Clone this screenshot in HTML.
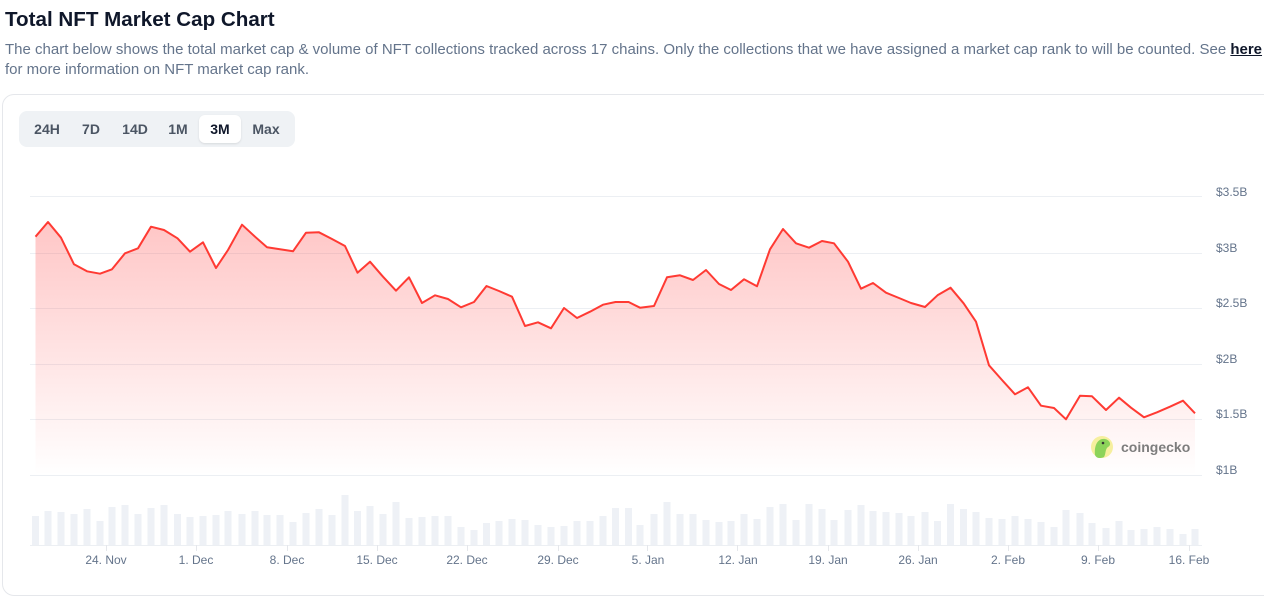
<!DOCTYPE html>
<html><head><meta charset="utf-8"><style>
body{margin:0;width:1264px;height:577px;overflow:hidden;background:#fff;font-family:"Liberation Sans",sans-serif;position:relative}
h1{position:absolute;left:5px;top:8px;margin:0;font-size:20.6px;font-weight:bold;color:#0f172a}
.desc{position:absolute;left:5px;top:40px;width:1259px;font-size:15px;line-height:20px;color:#64748b}
.desc b{color:#0f172a;text-decoration:underline}
.card{position:absolute;left:2px;top:94px;width:1280px;height:500px;border:1px solid #e5e7eb;border-radius:12px}
.btns{position:absolute;left:19px;top:111px;width:276px;height:36px;background:#eff2f5;border-radius:8px}
.btns span{position:absolute;top:4px;height:28px;line-height:28px;font-size:14px;font-weight:bold;color:#4b5563;text-align:center}
.btns .on{background:#fff;border-radius:6px;color:#0f172a;box-shadow:0 1px 2px rgba(0,0,0,.1)}
svg{position:absolute;left:0;top:0}
</style></head><body>
<h1>Total NFT Market Cap Chart</h1>
<div class="desc">The chart below shows the total market cap &amp; volume of NFT collections tracked across 17 chains. Only the collections that we have assigned a market cap rank to will be counted. See <b>here</b> for more information on NFT market cap rank.</div>
<div class="card"></div>
<div class="btns"><span style="left:6px;width:44px">24H</span><span style="left:52px;width:40px">7D</span><span style="left:94px;width:44px">14D</span><span style="left:140px;width:38px">1M</span><span class="on" style="left:180px;width:42px">3M</span><span style="left:224px;width:46px">Max</span></div>
<svg width="1264" height="577" xmlns="http://www.w3.org/2000/svg">
<defs><linearGradient id="g" x1="0" y1="0" x2="0" y2="1"><stop offset="0" stop-color="#ff4d4d" stop-opacity="0.32"/><stop offset="1" stop-color="#ff4d4d" stop-opacity="0"/></linearGradient></defs>
<g stroke="#eceff3" stroke-width="1">
<line x1="30" x2="1202" y1="196.5" y2="196.5"/><line x1="30" x2="1202" y1="253.5" y2="253.5"/><line x1="30" x2="1202" y1="308.5" y2="308.5"/><line x1="30" x2="1202" y1="364.5" y2="364.5"/><line x1="30" x2="1202" y1="419.5" y2="419.5"/><line x1="30" x2="1202" y1="475.5" y2="475.5"/><line x1="30" x2="1202" y1="545.5" y2="545.5"/>
</g>
<g fill="#eef1f6">
<rect x="32" y="516" width="7" height="29"/><rect x="44.5" y="511" width="7" height="34"/><rect x="57.5" y="512" width="7" height="33"/><rect x="70.5" y="514" width="7" height="31"/><rect x="83.5" y="509" width="7" height="36"/><rect x="96.5" y="521" width="7" height="24"/><rect x="108.5" y="507" width="7" height="38"/><rect x="121.5" y="505" width="7" height="40"/><rect x="134.5" y="514" width="7" height="31"/><rect x="147.5" y="508" width="7" height="37"/><rect x="160.5" y="505" width="7" height="40"/><rect x="174" y="514" width="7" height="31"/><rect x="186.5" y="517" width="7" height="28"/><rect x="199.5" y="516" width="7" height="29"/><rect x="212.5" y="515" width="7" height="30"/><rect x="224.5" y="511" width="7" height="34"/><rect x="238.5" y="514" width="7" height="31"/><rect x="251.5" y="511" width="7" height="34"/><rect x="263.5" y="515" width="7" height="30"/><rect x="276.5" y="515" width="7" height="30"/><rect x="289.5" y="522" width="7" height="23"/><rect x="302.5" y="513" width="7" height="32"/><rect x="315.5" y="509" width="7" height="36"/><rect x="328.5" y="515" width="7" height="30"/><rect x="341.5" y="495" width="7" height="50"/><rect x="354" y="511" width="7" height="34"/><rect x="366.5" y="506" width="7" height="39"/><rect x="379.5" y="514" width="7" height="31"/><rect x="392.5" y="502" width="7" height="43"/><rect x="405.5" y="518" width="7" height="27"/><rect x="418.5" y="517" width="7" height="28"/><rect x="431.5" y="516" width="7" height="29"/><rect x="444.5" y="516" width="7" height="29"/><rect x="457.5" y="527" width="7" height="18"/><rect x="470.5" y="530" width="7" height="15"/><rect x="483" y="523" width="7" height="22"/><rect x="495.5" y="521" width="7" height="24"/><rect x="508.5" y="519" width="7" height="26"/><rect x="521.5" y="520" width="7" height="25"/><rect x="534.5" y="525" width="7" height="20"/><rect x="547.5" y="527" width="7" height="18"/><rect x="560.5" y="526" width="7" height="19"/><rect x="573.5" y="521" width="7" height="24"/><rect x="586.5" y="521" width="7" height="24"/><rect x="599.5" y="516" width="7" height="29"/><rect x="612" y="508" width="7" height="37"/><rect x="625" y="508" width="7" height="37"/><rect x="636.5" y="525" width="7" height="20"/>
<rect x="650.5" y="514" width="7" height="31"/><rect x="663.5" y="502" width="7" height="43"/><rect x="676.5" y="514" width="7" height="31"/><rect x="689.5" y="514" width="7" height="31"/><rect x="702.5" y="520" width="7" height="25"/><rect x="715.5" y="522" width="7" height="23"/><rect x="727.5" y="521" width="7" height="24"/><rect x="740.5" y="514" width="7" height="31"/><rect x="753.5" y="519" width="7" height="26"/><rect x="766.5" y="507" width="7" height="38"/><rect x="779.5" y="504" width="7" height="41"/><rect x="792.5" y="520" width="7" height="25"/><rect x="805.5" y="504" width="7" height="41"/><rect x="818.5" y="509" width="7" height="36"/><rect x="830.5" y="520" width="7" height="25"/><rect x="844.5" y="510" width="7" height="35"/><rect x="857.5" y="505" width="7" height="40"/><rect x="869.5" y="511" width="7" height="34"/><rect x="882.5" y="512" width="7" height="33"/><rect x="895.5" y="513" width="7" height="32"/><rect x="907.5" y="516" width="7" height="29"/><rect x="921.5" y="512" width="7" height="33"/><rect x="934" y="521" width="7" height="24"/><rect x="947" y="504" width="7" height="41"/><rect x="960" y="509" width="7" height="36"/><rect x="972.5" y="512" width="7" height="33"/><rect x="985.5" y="518" width="7" height="27"/><rect x="998.5" y="519" width="7" height="26"/><rect x="1011.5" y="516" width="7" height="29"/><rect x="1024.5" y="519" width="7" height="26"/><rect x="1037.5" y="522" width="7" height="23"/><rect x="1050.5" y="527" width="7" height="18"/><rect x="1062.5" y="510" width="7" height="35"/><rect x="1076.5" y="513" width="7" height="32"/><rect x="1088.5" y="523" width="7" height="22"/><rect x="1102.5" y="528" width="7" height="17"/><rect x="1115.5" y="521" width="7" height="24"/><rect x="1127.5" y="530" width="7" height="15"/><rect x="1140.5" y="529" width="7" height="16"/><rect x="1153.5" y="527" width="7" height="18"/><rect x="1166.5" y="529" width="7" height="16"/><rect x="1179.5" y="534" width="7" height="11"/><rect x="1191.5" y="529" width="7" height="16"/>
</g>
<polygon fill="url(#g)" points="35.5,475 35.5,236.7 48,222 61,237.7 74,264.3 87,271.3 100,273.7 112,269.3 125,253.3 138,248.3 151,226.7 164,230 177.5,238.3 190,251.7 203,242.3 216,268 228,250 242,224.7 255,236.7 267,247.3 280,249.3 293,251.3 306,232.7 319,232.3 332,239 345,246 357.5,272.7 370,261.7 383,276.7 396,290.7 409,277.3 422,303 435,295.3 448,299 461,307.3 474,302 486.5,286 499,291 512,296.7 525,326 538,322.3 551,328.3 564,308 577,318 590,311.7 603,304.7 615.5,302 628.6,302 640,307.7 654,306 667,277.3 680,275.3 693,280 706,270 719,284 731,290 744,279.3 757,286.3 770,249.3 783,229 796,243.3 809,247.7 822,241 834,243.3 848,261.7 861,288.7 873,283 886,292.7 899,298 911,303 925,307 937.5,295.3 950.5,287.7 963.6,303.3 976,321.7 989,365.3 1002,380 1015,394.3 1028,387.3 1041,405.7 1054,408 1066,419.3 1080,395.7 1092,396.3 1106,410 1119,397.7 1131,407.7 1144,417.3 1157,412.3 1170,406.7 1183,400.7 1195,413.3 1195,475"/>
<polyline fill="none" stroke="#ff3a33" stroke-width="2" stroke-linejoin="round" points="35.5,236.7 48,222 61,237.7 74,264.3 87,271.3 100,273.7 112,269.3 125,253.3 138,248.3 151,226.7 164,230 177.5,238.3 190,251.7 203,242.3 216,268 228,250 242,224.7 255,236.7 267,247.3 280,249.3 293,251.3 306,232.7 319,232.3 332,239 345,246 357.5,272.7 370,261.7 383,276.7 396,290.7 409,277.3 422,303 435,295.3 448,299 461,307.3 474,302 486.5,286 499,291 512,296.7 525,326 538,322.3 551,328.3 564,308 577,318 590,311.7 603,304.7 615.5,302 628.6,302 640,307.7 654,306 667,277.3 680,275.3 693,280 706,270 719,284 731,290 744,279.3 757,286.3 770,249.3 783,229 796,243.3 809,247.7 822,241 834,243.3 848,261.7 861,288.7 873,283 886,292.7 899,298 911,303 925,307 937.5,295.3 950.5,287.7 963.6,303.3 976,321.7 989,365.3 1002,380 1015,394.3 1028,387.3 1041,405.7 1054,408 1066,419.3 1080,395.7 1092,396.3 1106,410 1119,397.7 1131,407.7 1144,417.3 1157,412.3 1170,406.7 1183,400.7 1195,413.3"/>
<circle cx="1102" cy="447" r="11" fill="#f6ef9e"/>
<path d="M1095,455 C1094,445 1098,438 1105,439 C1110,440 1112,445 1108,447 C1105,449 1106,454 1104,457 C1100,459 1096,458 1095,455Z" fill="#8cd35a"/>
<circle cx="1103" cy="443" r="1.3" fill="#333"/>
<text x="1121" y="452" font-size="14" font-weight="bold" fill="#7d7d7d" font-family="Liberation Sans, sans-serif">coingecko</text>
<g font-size="12" fill="#64748b" font-family="Liberation Sans, sans-serif">
<text x="1216" y="196">$3.5B</text><text x="1216" y="252">$3B</text><text x="1216" y="307">$2.5B</text><text x="1216" y="363">$2B</text><text x="1216" y="418">$1.5B</text><text x="1216" y="474">$1B</text>
</g>
<g stroke="#e5e7eb"><line x1="106.5" x2="106.5" y1="545" y2="551"/><line x1="196.5" x2="196.5" y1="545" y2="551"/><line x1="287.5" x2="287.5" y1="545" y2="551"/><line x1="377.5" x2="377.5" y1="545" y2="551"/><line x1="467.5" x2="467.5" y1="545" y2="551"/><line x1="558.5" x2="558.5" y1="545" y2="551"/><line x1="647.5" x2="647.5" y1="545" y2="551"/><line x1="737.5" x2="737.5" y1="545" y2="551"/><line x1="828.5" x2="828.5" y1="545" y2="551"/><line x1="918.5" x2="918.5" y1="545" y2="551"/><line x1="1008.5" x2="1008.5" y1="545" y2="551"/><line x1="1098.5" x2="1098.5" y1="545" y2="551"/><line x1="1189.5" x2="1189.5" y1="545" y2="551"/></g>
<g font-size="12" fill="#64748b" text-anchor="middle" font-family="Liberation Sans, sans-serif">
<text x="106" y="564">24. Nov</text><text x="196" y="564">1. Dec</text><text x="287" y="564">8. Dec</text><text x="377" y="564">15. Dec</text><text x="467" y="564">22. Dec</text><text x="558" y="564">29. Dec</text><text x="648" y="564">5. Jan</text><text x="738" y="564">12. Jan</text><text x="828" y="564">19. Jan</text><text x="918" y="564">26. Jan</text><text x="1008" y="564">2. Feb</text><text x="1098" y="564">9. Feb</text><text x="1189" y="564">16. Feb</text>
</g>
</svg>
</body></html>
